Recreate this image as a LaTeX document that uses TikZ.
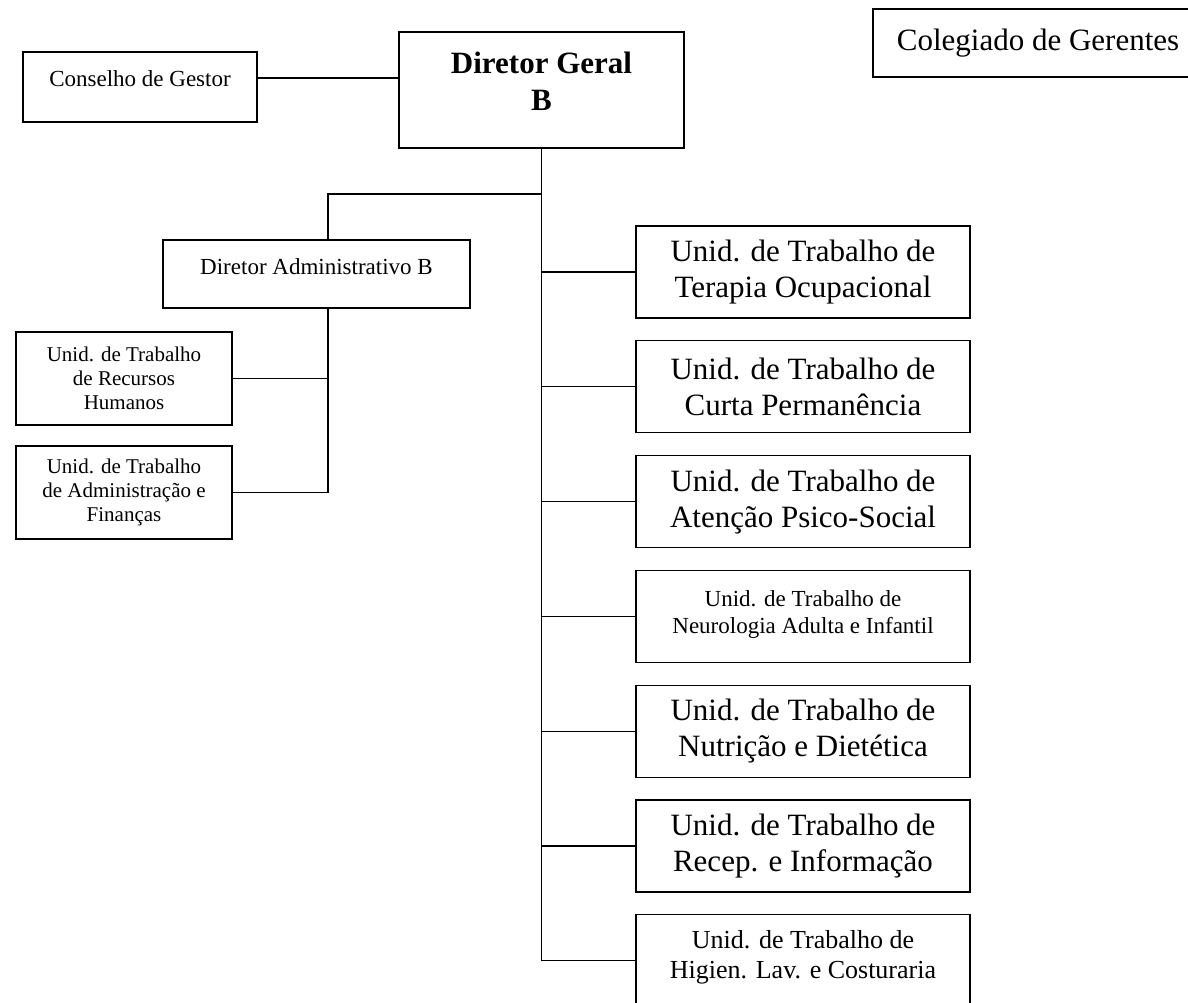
\documentclass[tikz,border=0pt]{standalone}
\usepackage{fontspec}
\setmainfont{Liberation Serif}
\usetikzlibrary{positioning}

\begin{document}
\begin{tikzpicture}[x=1pt,y=-1pt,line width=1.3pt,
  caixa/.style={draw,rectangle,align=center,inner sep=0pt},
  unid/.style={caixa,minimum width=334pt,minimum height=92pt,font=\fontsize{31}{36}\selectfont}]

\useasboundingbox (0,0) rectangle (1188,1002);

\node[caixa,line width=2pt,minimum width=285pt,minimum height=116pt,text depth=18pt,font=\fontsize{31}{37}\selectfont\bfseries] (g) at (541.5,90) {Diretor Geral\\B};
\node[caixa,minimum width=234pt,minimum height=70pt,text height=16pt,text depth=17pt,font=\fontsize{23}{27}\selectfont] (cg) at (140,87) {Conselho de Gestor};
\node[caixa,minimum width=330pt,minimum height=68pt,font=\fontsize{31}{36}\selectfont] (cole) at (1038,43) {Colegiado de Gerentes};

\node[caixa,minimum width=307pt,minimum height=68pt,text height=16pt,text depth=15pt,font=\fontsize{23}{27}\selectfont] (da) at (316.5,274) {Diretor Administrativo B};
\node[caixa,minimum width=216pt,minimum height=93pt,font=\fontsize{21}{24}\selectfont] (rh) at (124,378.5) {Unid. de Trabalho\\de Recursos\\Humanos};
\node[caixa,minimum width=216pt,minimum height=93pt,font=\fontsize{21}{24}\selectfont] (af) at (124,492.5) {Unid. de Trabalho\\de Administração e\\Finanças};

\node[unid] (ut1) at (803,272) {Unid. de Trabalho de\\Terapia Ocupacional};
\node[unid,below=21.5pt of ut1] (ut2) {Unid. de Trabalho de\\Curta Permanência};
\node[unid,below=21.5pt of ut2] (ut3) {Unid. de Trabalho de\\Atenção Psico-Social};
\node[unid,below=21.5pt of ut3,text depth=9pt,font=\fontsize{23}{27}\selectfont] (ut4) {Unid. de Trabalho de\\Neurologia Adulta e Infantil};
\node[unid,below=21.5pt of ut4] (ut5) {Unid. de Trabalho de\\Nutrição e Dietética};
\node[unid,below=21.5pt of ut5] (ut6) {Unid. de Trabalho de\\Recep. e Informação};
\node[unid,below=21.5pt of ut6,text depth=12pt,font=\fontsize{26}{30}\selectfont] (ut7) {Unid. de Trabalho de\\Higien. Lav. e Costuraria};

%ligacoes
\coordinate (ramo) at (328,194);
\draw ([yshift=9pt]cg.east) -- ([yshift=9pt]cg.east -| g.west);
\draw (g.south) -- (g.south |- ut7.west);
\draw (g.south |- ramo) -- (ramo) -- (da.north -| ramo);
\draw (da.south -| ramo) -- (ramo |- af.east) -- (af.east);
\draw (ramo |- rh.east) -- (rh.east);
\foreach \u in {ut1,ut2,ut3,ut4,ut5,ut6,ut7}
  \draw (g.south |- \u.west) -- (\u.west);
\end{tikzpicture}
\end{document}
